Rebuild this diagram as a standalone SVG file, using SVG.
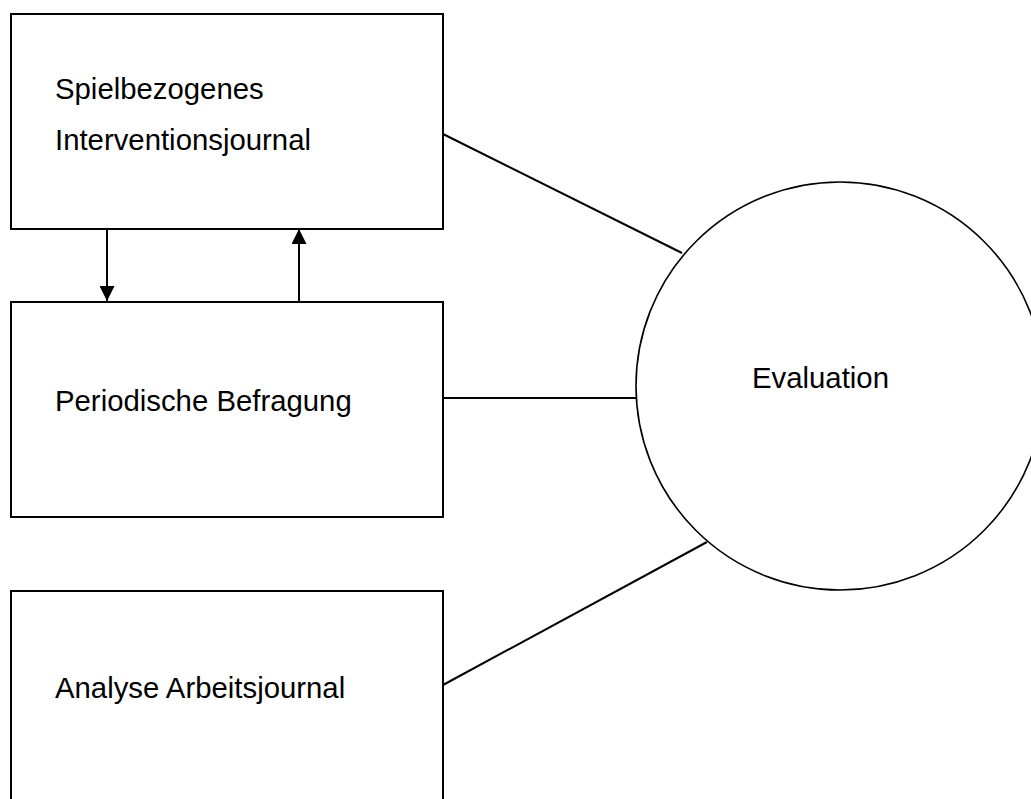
<svg xmlns="http://www.w3.org/2000/svg" width="1031" height="799" viewBox="0 0 1031 799">
<style>
.box{fill:#fff;stroke:#000;stroke-width:2}
.lbl{font-family:"Liberation Sans",Arial,sans-serif;font-size:29.33px;fill:#000}
.con{stroke:#000;stroke-width:2;fill:none}
</style>
<defs>
<marker id="ah" viewBox="0 0 10 10" refX="10" refY="5" markerWidth="7.5" markerHeight="7.5" orient="auto" markerUnits="strokeWidth">
<path d="M0,0 L10,5 L0,10 z" fill="#000"/>
</marker>
</defs>
<rect width="1031" height="799" fill="#fff"/>
<g id="connectors">
<line class="con" x1="443" y1="134" x2="682" y2="253"/>
<line class="con" x1="443" y1="398" x2="636" y2="398"/>
<line class="con" x1="443" y1="685" x2="707" y2="542"/>
<line class="con" x1="107" y1="229" x2="107" y2="301" marker-end="url(#ah)"/>
<line class="con" x1="299" y1="301" x2="299" y2="229" marker-end="url(#ah)"/>
</g>
<g id="node-spiel">
<rect class="box" x="11" y="14" width="432" height="215"/>
<text class="lbl" x="55" y="99">Spielbezogenes</text>
<text class="lbl" x="55" y="150">Interventionsjournal</text>
</g>
<g id="node-befragung">
<rect class="box" x="11" y="302" width="432" height="215"/>
<text class="lbl" x="55" y="411">Periodische Befragung</text>
</g>
<g id="node-analyse">
<rect class="box" x="11" y="591" width="432" height="230"/>
<text class="lbl" x="55" y="698">Analyse Arbeitsjournal</text>
</g>
<g id="node-evaluation">
<circle cx="840" cy="386" r="204" fill="#fff" stroke="#000" stroke-width="1.6"/>
<text class="lbl" x="752" y="388">Evaluation</text>
</g>
</svg>
